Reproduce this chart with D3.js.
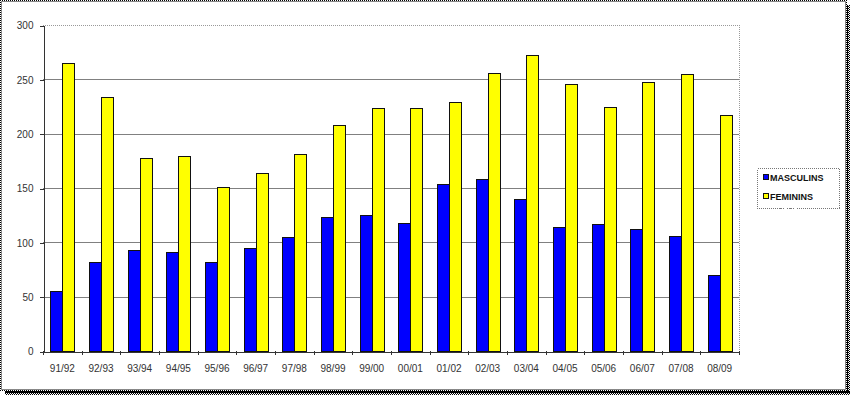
<!DOCTYPE html>
<html>
<head>
  <meta charset="utf-8">
  <title>Masculins / Feminins</title>
  <style>
    body { margin: 0; background: #fff; }
    svg { display: block; font-family: Arial, "Liberation Sans", sans-serif; }
  </style>
</head>
<body>
  <div id="chart"></div>

  <script src="https://d3js.org/d3.v7.min.js"></script>
  <script>
    // Données
    const annees = ["91/92", "92/93", "93/94", "94/95", "95/96", "96/97", "97/98", "98/99", "99/00",
                    "00/01", "01/02", "02/03", "03/04", "04/05", "05/06", "06/07", "07/08", "08/09"];
    const masculins = [55, 82, 93, 91, 82, 95, 105, 123, 125, 118, 154, 158, 140, 114, 117, 112, 106, 70];
    const feminins = [265, 234, 178, 179, 151, 164, 181, 208, 224, 224, 229, 256, 272, 246, 225, 248, 255, 217];
    const series = ["MASCULINS", "FEMININS"];
    const couleurs = ["#0000ff", "#ffff00"];
    const yTicks = [0, 50, 100, 150, 200, 250, 300];

    const width = 850, height = 395;
    const plot = { left: 43, top: 25, right: 739, bottom: 351 };

    const svg = d3.select("#chart")
      .append("svg")
      .attr("width", width)
      .attr("height", height)
      .attr("shape-rendering", "crispEdges");

    // Motif en damier pour l'ombre du cadre
    const pat = svg.append("defs").append("pattern")
      .attr("id", "damier")
      .attr("width", 2).attr("height", 2)
      .attr("patternUnits", "userSpaceOnUse");
    pat.append("rect").attr("width", 2).attr("height", 2).attr("fill", "#fff");
    pat.append("rect").attr("width", 1).attr("height", 1).attr("fill", "#000");
    pat.append("rect").attr("x", 1).attr("y", 1).attr("width", 1).attr("height", 1).attr("fill", "#000");

    // Cadre extérieur avec ombre
    svg.append("rect")
      .attr("x", 847).attr("y", 5).attr("width", 3).attr("height", 390)
      .attr("fill", "#000");
    svg.append("rect")
      .attr("x", 848).attr("y", 5).attr("width", 2).attr("height", 390)
      .attr("fill", "url(#damier)");
    svg.append("rect")
      .attr("x", 5).attr("y", 391).attr("width", 845).attr("height", 4)
      .attr("fill", "#000");
    svg.append("rect")
      .attr("x", 5).attr("y", 393).attr("width", 845).attr("height", 2)
      .attr("fill", "url(#damier)");
    svg.append("rect")
      .attr("x", 0).attr("y", 0).attr("width", 847).attr("height", 391)
      .attr("fill", "url(#damier)");
    svg.append("rect")
      .attr("x", 1.5).attr("y", 1.5).attr("width", 844).attr("height", 388)
      .attr("fill", "#fff").attr("stroke", "#888");

    // Échelles
    const x = d3.scaleBand()
      .domain(annees)
      .range([plot.left, plot.right])
      .paddingInner(0.38)
      .paddingOuter(0.19);

    const xSerie = d3.scaleBand()
      .domain(series)
      .range([0, x.bandwidth()]);

    const y = d3.scaleLinear()
      .domain([0, 300])
      .range([plot.bottom, plot.top]);

    // Grille
    svg.append("g")
      .selectAll("line")
      .data(yTicks.filter(d => d > 0))
      .enter()
      .append("line")
      .attr("x1", plot.left).attr("x2", plot.right)
      .attr("y1", d => Math.round(y(d)) + 0.5)
      .attr("y2", d => Math.round(y(d)) + 0.5)
      .attr("stroke", d => d === 300 ? "#999" : "#808080")
      .attr("stroke-dasharray", d => d === 300 ? "1,1" : null);

    // Bordure droite de la zone de tracé
    svg.append("line")
      .attr("x1", plot.right + 0.5).attr("x2", plot.right + 0.5)
      .attr("y1", plot.top).attr("y2", plot.bottom)
      .attr("stroke", "#999").attr("stroke-dasharray", "1,1");

    // Barres
    const donnees = annees.map((a, i) => ({ annee: a, valeurs: [masculins[i], feminins[i]] }));

    const groupes = svg.append("g")
      .selectAll("g")
      .data(donnees)
      .enter()
      .append("g")
      .attr("transform", d => `translate(${x(d.annee)},0)`);

    groupes.selectAll("rect")
      .data(d => d.valeurs.map((v, i) => ({ serie: series[i], valeur: v, i })))
      .enter()
      .append("rect")
      .attr("x", d => Math.round(xSerie(d.serie)) + 0.5)
      .attr("y", d => Math.round(y(d.valeur)) + 0.5)
      .attr("width", d => Math.round(xSerie.bandwidth()))
      .attr("height", d => Math.round(y(0)) - Math.round(y(d.valeur)))
      .attr("fill", d => couleurs[d.i])
      .attr("stroke", "#111")
      .attr("stroke-width", 1);

    // Axe Y
    const yAxis = svg.append("g")
      .attr("transform", `translate(${plot.left + 0.5},0.5)`)
      .call(d3.axisLeft(y).tickValues(yTicks).tickSize(4).tickPadding(6));
    yAxis.select(".domain").attr("stroke", "#333");
    yAxis.selectAll(".tick line").attr("stroke", "#333");
    yAxis.selectAll("text")
      .attr("fill", "#333")
      .attr("shape-rendering", null)
      .style("font-size", "10px");

    // Axe X
    const xAxis = svg.append("g")
      .attr("transform", `translate(0,${plot.bottom + 0.5})`)
      .call(d3.axisBottom(x).tickSize(0).tickPadding(13));
    xAxis.select(".domain").attr("stroke", "#333");
    xAxis.selectAll("text")
      .attr("fill", "#333")
      .style("font-size", "10px");

    // Graduations entre les catégories
    svg.append("g")
      .selectAll("line")
      .data(d3.range(annees.length + 1))
      .enter()
      .append("line")
      .attr("x1", i => Math.round(plot.left + i * x.step()) + 0.5)
      .attr("x2", i => Math.round(plot.left + i * x.step()) + 0.5)
      .attr("y1", plot.bottom)
      .attr("y2", plot.bottom + 4)
      .attr("stroke", "#333");

    // Légende
    const legende = svg.append("g").attr("transform", "translate(757,168)");
    legende.append("rect")
      .attr("x", 0.5).attr("y", 0.5).attr("width", 82).attr("height", 40)
      .attr("fill", "#fff").attr("stroke", "#777")
      .attr("stroke-dasharray", "1,1");

    series.forEach((s, i) => {
      const ly = 9 + i * 19;
      legende.append("rect")
        .attr("x", 6.5).attr("y", ly - 2.5)
        .attr("width", 5).attr("height", 5)
        .attr("fill", couleurs[i]).attr("stroke", "#111");
      legende.append("text")
        .attr("x", 13).attr("y", ly + 3.5)
        .attr("fill", "#111")
        .style("font-size", "9px")
        .style("font-weight", "bold")
        .text(s);
    });
  </script>
</body>
</html>
